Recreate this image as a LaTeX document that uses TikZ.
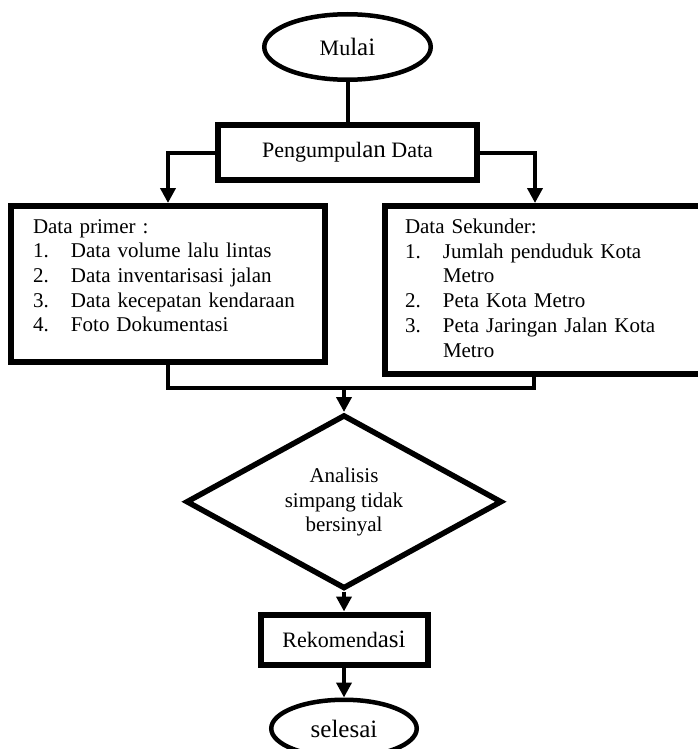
\documentclass[tikz,border=0pt]{standalone}
\usepackage{fontspec}
\setmainfont{Liberation Serif}
\usetikzlibrary{arrows.meta, positioning, shapes.geometric}
\newcommand{\upsize}[1]{{\fontsize{25}{28}\selectfont #1}}
\newcommand{\itemno}[1]{\makebox[38pt][l]{#1}}

\begin{document}
\begin{tikzpicture}[
  x=1pt, y=1pt,
  node distance=20pt,
  terminal/.style={ellipse, draw, line width=4.5pt, inner sep=0pt,
                   font=\fontsize{22}{26}\selectfont},
  process/.style={rectangle, draw, line width=6pt, inner sep=0pt,
                  font=\fontsize{22}{26}\selectfont},
  databox/.style={rectangle, draw, line width=6pt, align=left,
                  inner ysep=0pt, anchor=north west,
                  font=\fontsize{21}{24.7}\selectfont},
  decision/.style={diamond, draw, line width=5.5pt, aspect=1.8,
                   inner sep=0pt, align=center,
                   font=\fontsize{21}{24.5}\selectfont},
  link/.style={line width=4pt},
  flow/.style={link, -{Triangle[length=15pt, width=15pt]}}
]
  \useasboundingbox (0,0) rectangle (698,-749);
  \clip (0,0) rectangle (698,-749);

  \node[terminal, minimum width=166.5pt, minimum height=65.5pt] (start) at (347.5,-47) {Mu\upsize{lai}};
  \node[process, minimum width=259pt, minimum height=55pt, below=40pt of start] (collect) {Pengumpul\upsize{an} Data};

  \node[databox, minimum width=314pt, minimum height=156pt, inner xsep=22pt, text width=270pt] (primer) at (8,-203) {%
    Data primer :\\
    \itemno{1.}Data volume lalu lintas\\
    \itemno{2.}Data inventarisasi jalan\\
    \itemno{3.}Data kecepatan kendaraan\\
    \itemno{4.}Foto Dokumentasi\rule[-17pt]{0pt}{17pt}};
  \node[databox, minimum width=320pt, minimum height=168pt, inner xsep=20pt, text width=280pt] (sekunder) at (382,-203) {%
    Data Sekunder:\\
    \itemno{1.}Jumlah penduduk Kota\\
    \hspace*{38pt}Metro\\
    \itemno{2.}Peta Kota Metro\\
    \itemno{3.}Peta Jaringan Jalan Kota\\
    \hspace*{38pt}Metro\rule[-4pt]{0pt}{4pt}};

  \coordinate (join) at (344,-388);
  \node[decision, minimum width=316pt, minimum height=174pt, below=24pt of join] (analisis) {%
    \rule{0pt}{16pt}Analisis\\simpang tidak\\bersinyal};
  \node[process, minimum width=167pt, minimum height=50pt, below=20pt of analisis] (rekom) {Rekomend\upsize{asi}};
  \node[terminal, minimum width=145.5pt, minimum height=57.5pt, below=30pt of rekom] (finish) {\upsize{selesai}};

  \draw[link] (start) -- (collect);
  \draw[flow] (collect.west) -| (primer.north);
  \draw[flow] (collect.east) -| ([xshift=-10pt]sekunder.north);
  \draw[link] (primer.south) |- (join) -| ([xshift=-11pt]sekunder.south);
  \draw[flow] (join) -- (analisis);
  \draw[flow] (analisis) -- (rekom);
  \draw[flow] (rekom) -- (finish);
\end{tikzpicture}
\end{document}
